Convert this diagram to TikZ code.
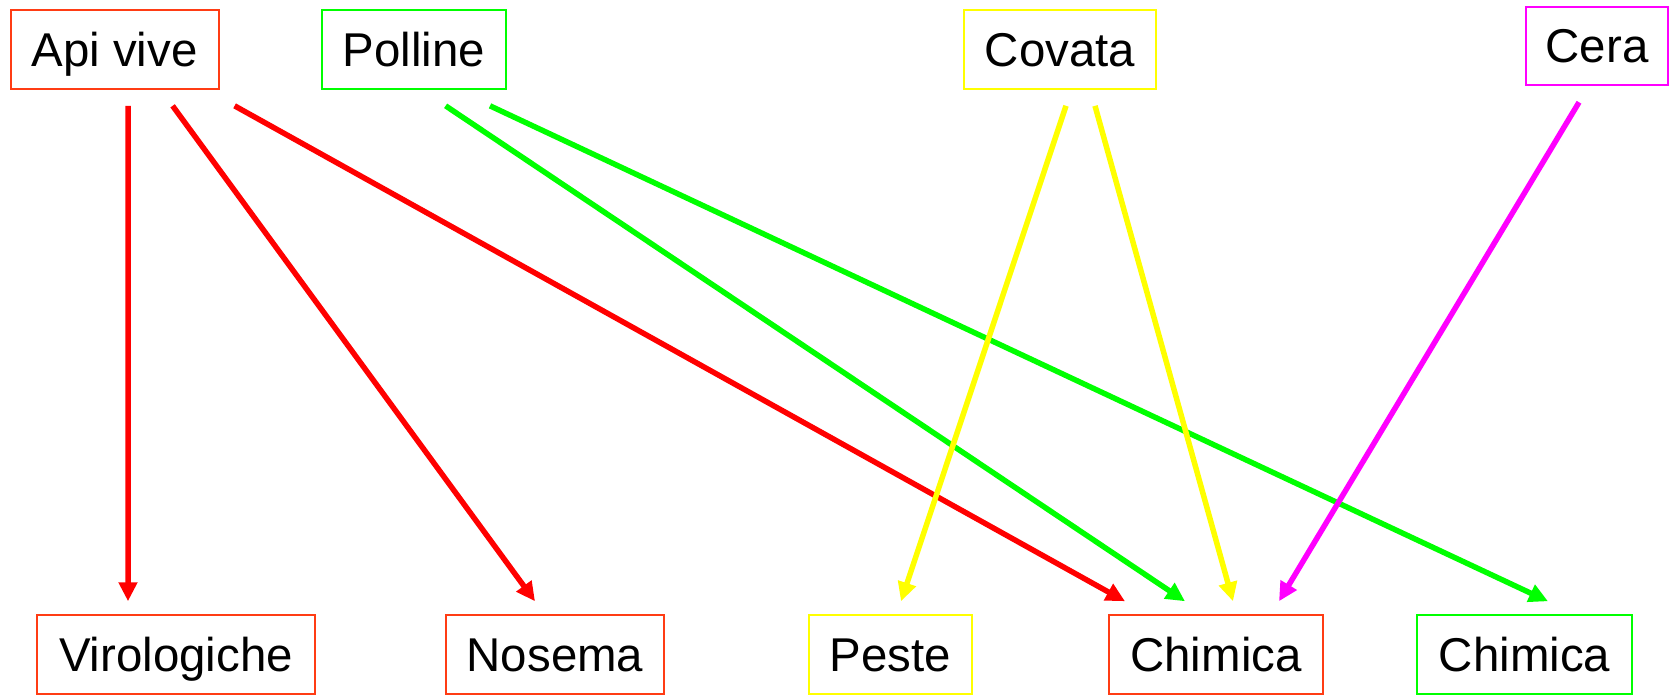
\documentclass[tikz,border=0pt]{standalone}
\usepackage{fontspec}
\setmainfont{Liberation Sans}
\usetikzlibrary{arrows.meta}
\definecolor{boxred}{RGB}{255,60,20}
\definecolor{lime}{RGB}{0,255,0}
\definecolor{yel}{RGB}{255,255,0}
\definecolor{mag}{RGB}{255,0,255}

\begin{document}
\begin{tikzpicture}
  [x=0.02cm,y=-0.02cm,
   every node/.style={rectangle,draw,line width=0.04cm,inner sep=0pt,
     minimum height=1.57cm,text height=0.68cm,text depth=0pt,
     font=\fontsize{27}{32}\selectfont},
   link/.style={line width=0.11cm,-{Triangle[length=0.38cm,width=0.36cm]}}]
  \useasboundingbox (0,0) rectangle (1672,695);

  \node [draw=boxred,minimum width=4.16cm] (api) at (114.6,49.6) {Api vive};
  \node [draw=lime,minimum width=3.68cm] (pol) at (414,49.6) {Polline};
  \node [draw=yel,minimum width=3.84cm] (cov) at (1060,49.6) {Covata};
  \node [draw=mag,minimum width=2.84cm] (cera) at (1597,46) {Cera};
  \node [draw=boxred,minimum width=5.56cm] (vir) at (176,654.5) {Virologiche};
  \node [draw=boxred,minimum width=4.36cm] (nos) at (555,654.5) {Nosema};
  \node [draw=yel,minimum width=3.26cm] (pes) at (890.5,654.5) {Peste};
  \node [draw=boxred,minimum width=4.28cm] (chr) at (1216,654.5) {Chimica};
  \node [draw=lime,minimum width=4.3cm] (chg) at (1524.5,654.5) {Chimica};

  \foreach \from/\fx/\to/\tx/\c in {api/13.4/vir/-48/red,api/58/nos/-20/red,
      api/120/chr/-91/red,pol/31.6/chr/-31/lime,pol/76/chg/23.5/lime,
      cov/6/pes/10.5/yel,cov/35/chr/17/yel,cera/-18/chr/63/mag}
    \draw [link,\c] ([shift={(\fx,16)}]\from.south) -- ([shift={(\tx,-13)}]\to.north);

\end{tikzpicture}
\end{document}
